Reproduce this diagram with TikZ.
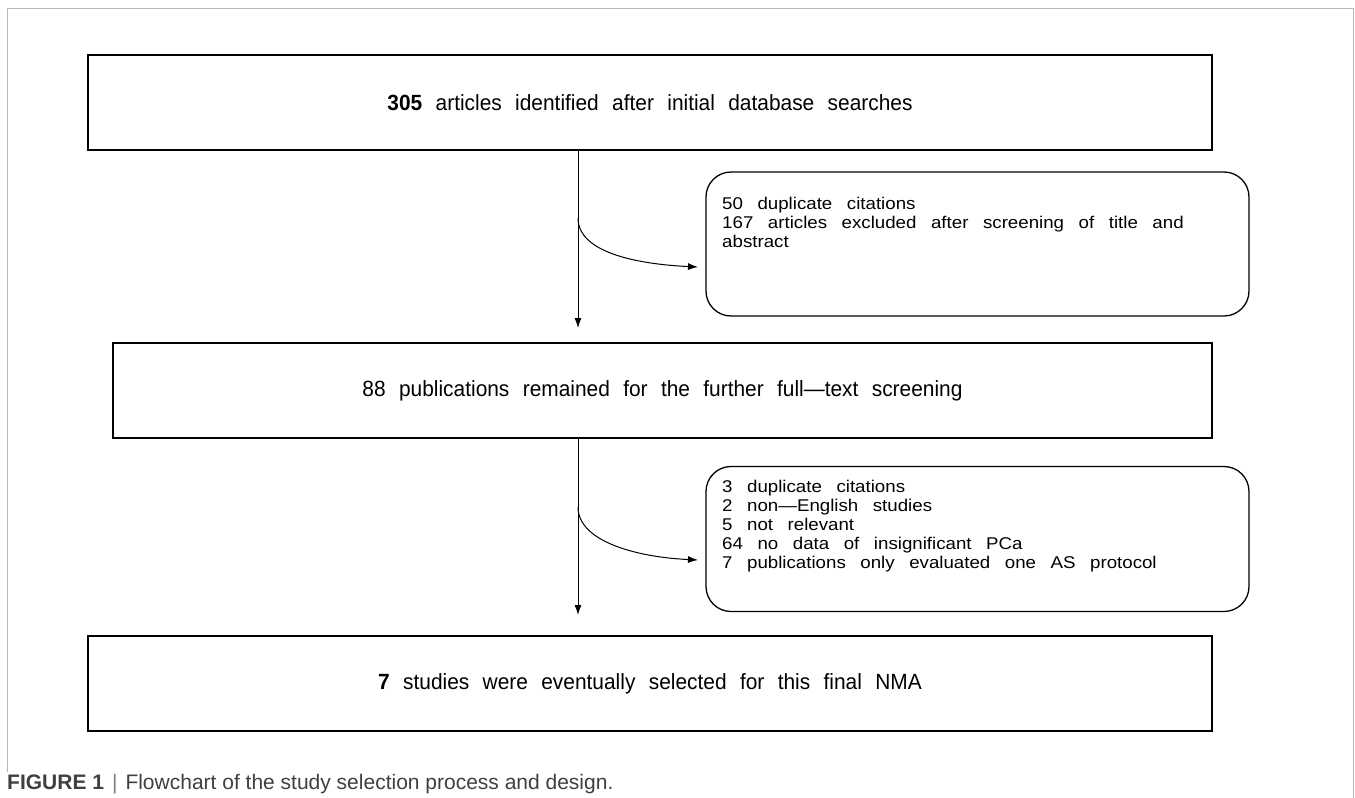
\documentclass[tikz,border=0pt]{standalone}
\usepackage{fontspec}
\setmainfont{Liberation Sans}
\newfontfamily\gul[FakeStretch=0.95,WordSpace={2.3}]{Liberation Sans}
\newfontfamily\gulside[FakeStretch=1.1,WordSpace={2.8}]{Liberation Sans}
\newfontfamily\capf[FakeStretch=1.0]{Liberation Sans}
\usetikzlibrary{arrows.meta}
\definecolor{framegray}{gray}{0.72}
\definecolor{captxt}{gray}{0.25}
\definecolor{capbar}{gray}{0.5}
\begin{document}
\begin{tikzpicture}[x=1pt,y=-1pt,
  mainbox/.style={draw=black, line width=1.4pt, inner sep=0pt,
    font=\gul\fontsize{22}{26}\selectfont},
  sidebox/.style={draw=black, line width=1.3pt, rounded corners=25pt, inner sep=0pt},
  sidetext/.style={anchor=north west, inner sep=0pt, align=left,
    font=\gulside\fontsize{17}{19}\selectfont},
  flow/.style={-{Latex[length=10pt,width=7pt]}, line width=1pt}]
\useasboundingbox (0,0) rectangle (1355,798);
\fill[white] (0,0) rectangle (1355,798);
\draw[framegray, line width=1pt] (7,772) -- (7,8) -- (1353,8) -- (1353,798);

\node[mainbox, minimum width=1124pt, minimum height=95pt] (box1) at (650,102.5)
  {{\bfseries 305} articles identified after initial database searches};
\node[mainbox, minimum width=1099pt, minimum height=95pt] (box2) at (662.5,390.5)
  {88 publications remained for the further full—text screening};
\node[mainbox, minimum width=1124pt, minimum height=95pt] (box3) at (650,683.5)
  {{\bfseries 7} studies were eventually selected for this final NMA};

\node[sidebox, minimum width=543pt, minimum height=144pt] (sideA) at (977.5,244) {};
\node[sidetext] (sideAtext) at (722,196.5)
  {50 duplicate citations\\167 articles excluded after screening of title and\\abstract};
\node[sidebox, minimum width=543pt, minimum height=145pt] (sideB) at (977.5,539) {};
\node[sidetext] (sideBtext) at (722,479.5)
  {3 duplicate citations\\2 non—English studies\\5 not relevant\\64 no data of insignificant PCa\\7 publications only evaluated one AS protocol};

\coordinate (t1) at (578,328);
\coordinate (t2) at (578,615);
\coordinate (c1) at (578,218);
\coordinate (e1) at (698,267);
\coordinate (c2) at (578,507);
\coordinate (e2) at (698,560);
\draw[flow] (box1.south -| t1) -- (t1);
\draw[flow] (box2.south -| t2) -- (t2);
\draw[flow] (c1) .. controls (578,252) and (635,264) .. (e1);
\draw[flow] (c2) .. controls (578,541) and (635,557) .. (e2);

\node[anchor=base west, inner sep=0pt, text=captxt,
  font=\capf\fontsize{21}{25}\selectfont] (cap) at (7,789)
  {{\bfseries FIGURE 1}\hspace{8pt}\textcolor{capbar}{|}\hspace{8pt}Flowchart of the study selection process and design.};
\end{tikzpicture}
\end{document}
